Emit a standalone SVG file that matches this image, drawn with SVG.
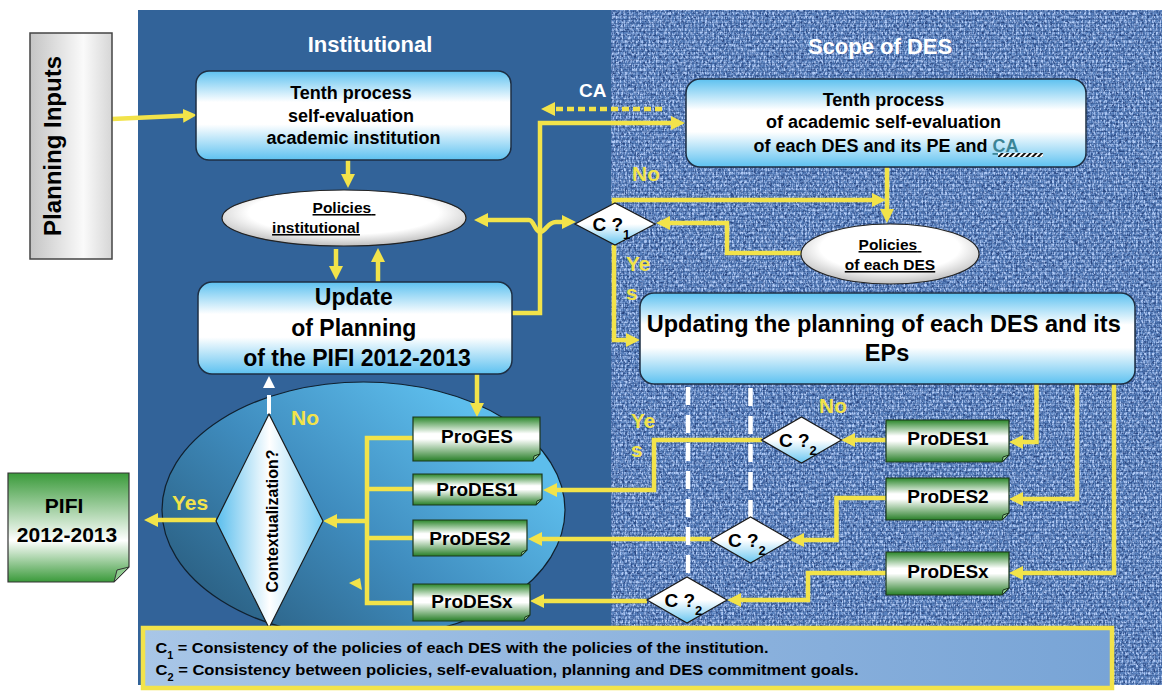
<svg xmlns="http://www.w3.org/2000/svg" width="1162" height="691" viewBox="0 0 1162 691">
  <defs>
    <linearGradient id="gBlueBox" x1="0" y1="0" x2="0" y2="1">
      <stop offset="0" stop-color="#5DC1F0"/>
      <stop offset="0.35" stop-color="#FFFFFF"/>
      <stop offset="0.6" stop-color="#FFFFFF"/>
      <stop offset="1" stop-color="#5DC1F0"/>
    </linearGradient>
    <linearGradient id="gGreen" x1="0" y1="0" x2="0" y2="1">
      <stop offset="0" stop-color="#2A862A"/>
      <stop offset="0.38" stop-color="#FFFFFF"/>
      <stop offset="0.5" stop-color="#FFFFFF"/>
      <stop offset="1" stop-color="#287F28"/>
    </linearGradient>
    <linearGradient id="gPifi" x1="0" y1="0" x2="0" y2="1">
      <stop offset="0" stop-color="#3A9A3A"/>
      <stop offset="0.62" stop-color="#FFFFFF"/>
      <stop offset="1" stop-color="#3A9A3A"/>
    </linearGradient>
    <linearGradient id="gDiam" x1="0" y1="0" x2="0" y2="1">
      <stop offset="0" stop-color="#FFFFFF"/>
      <stop offset="0.5" stop-color="#FFFFFF"/>
      <stop offset="1" stop-color="#67C5F0"/>
    </linearGradient>
    <linearGradient id="gCtx" x1="0" y1="0" x2="1" y2="0">
      <stop offset="0" stop-color="#58BDED"/>
      <stop offset="0.5" stop-color="#FFFFFF"/>
      <stop offset="1" stop-color="#78CCF3"/>
    </linearGradient>
    <radialGradient id="gPol" cx="0.5" cy="0.4" r="0.6">
      <stop offset="0" stop-color="#FFFFFF"/>
      <stop offset="0.65" stop-color="#FFFFFF"/>
      <stop offset="1" stop-color="#BEBEBE"/>
    </radialGradient>
    <linearGradient id="gOval" x1="0.9" y1="0.3" x2="0.1" y2="0.9">
      <stop offset="0" stop-color="#5DBDEC"/>
      <stop offset="0.5" stop-color="#3F8CBE"/>
      <stop offset="1" stop-color="#2A5E80"/>
    </linearGradient>
    <linearGradient id="gInputs" x1="0" y1="0" x2="1" y2="0">
      <stop offset="0" stop-color="#C4C4C4"/>
      <stop offset="0.65" stop-color="#FAFAFA"/>
      <stop offset="1" stop-color="#D6D6D6"/>
    </linearGradient>
    <linearGradient id="gLegend" x1="0" y1="0" x2="1" y2="0">
      <stop offset="0" stop-color="#A8C6E7"/>
      <stop offset="1" stop-color="#78A4D6"/>
    </linearGradient>
    <pattern id="hatch" width="4" height="4" patternUnits="userSpaceOnUse" patternTransform="rotate(45)">
      <rect width="4" height="4" fill="#FFFFFF"/>
      <rect width="2" height="4" fill="#111111"/>
    </pattern>
    <!-- woven cloth texture for the DES panel -->
    <pattern id="weaveGrid" width="4" height="4" patternUnits="userSpaceOnUse">
      <rect x="0" y="3" width="4" height="1" fill="#23457E" fill-opacity="0.35"/>
      <rect x="3" y="0" width="1" height="4" fill="#23457E" fill-opacity="0.25"/>
    </pattern>
    <filter id="fLight" x="0" y="0" width="1" height="1" color-interpolation-filters="sRGB">
      <feTurbulence type="fractalNoise" baseFrequency="0.55 0.32" numOctaves="2" seed="4"/>
      <feColorMatrix type="matrix" values="0 0 0 0 0.7  0 0 0 0 0.8  0 0 0 0 0.97  3.6 0 0 0 -1.5"/>
    </filter>
    <filter id="fDark" x="0" y="0" width="1" height="1" color-interpolation-filters="sRGB">
      <feTurbulence type="fractalNoise" baseFrequency="0.32 0.55" numOctaves="2" seed="11"/>
      <feColorMatrix type="matrix" values="0 0 0 0 0.16  0 0 0 0 0.27  0 0 0 0 0.5  0 3.4 0 0 -1.55"/>
    </filter>
    <marker id="ah" markerUnits="userSpaceOnUse" markerWidth="15" markerHeight="15" refX="5" refY="7" orient="auto">
      <path d="M0,0 L14,7 L0,14 z" fill="#F2E34A"/>
    </marker>
    <marker id="ahs" markerUnits="userSpaceOnUse" markerWidth="15" markerHeight="15" refX="5" refY="7" orient="auto-start-reverse">
      <path d="M0,0 L14,7 L0,14 z" fill="#F2E34A"/>
    </marker>
  </defs>
  <style>
    .t { font-family: "Liberation Sans", Arial, sans-serif; font-weight: bold; }
    .blk { fill: #000000; }
    .wht { fill: #FFFFFF; }
    .yel { fill: #F2E34A; font-size: 21px; }
    .box { fill: url(#gBlueBox); stroke: #1E2F44; stroke-width: 1.5; }
    .grn { fill: url(#gGreen); stroke: #1C361C; stroke-width: 1.2; }
    .fold { fill: #8FCB8F; stroke: #1C361C; stroke-width: 1; }
    .dia { fill: url(#gDiam); stroke: #1A1A1A; stroke-width: 1.2; }
    .pol { fill: url(#gPol); stroke: #222222; stroke-width: 1.2; }
    .conn { fill: none; stroke: #F2E34A; stroke-width: 4.5; }
    .arr { marker-end: url(#ah); }
    .dash { fill: none; stroke: #FFFFFF; stroke-width: 4.5; stroke-dasharray: 18 10; }
    .pro { font-size: 19px; text-anchor: middle; }
    .ct { font-size: 19px; }
  </style>

  <!-- backgrounds -->
  <rect x="0" y="0" width="1162" height="691" fill="#FFFFFF"/>
  <rect x="138" y="10" width="474" height="675" fill="#326399"/>
  <g id="scope-panel">
    <rect x="611" y="10" width="551" height="675" fill="#5780BD"/>
    <rect x="611" y="10" width="551" height="675" filter="url(#fDark)"/>
    <rect x="611" y="10" width="551" height="675" filter="url(#fLight)"/>
    <rect x="611" y="10" width="551" height="675" fill="url(#weaveGrid)"/>
  </g>

  <text class="t wht" x="370" y="52" font-size="22" text-anchor="middle">Institutional</text>
  <text class="t wht" x="880" y="54" font-size="22" text-anchor="middle">Scope of DES</text>

  <!-- programme oval -->
  <g id="program-oval">
    <ellipse cx="363.5" cy="510" rx="201.5" ry="128" fill="url(#gOval)" stroke="#10202E" stroke-width="1.2"/>
  </g>

  <!-- connectors -->
  <g id="connectors">
    <polyline class="conn arr" points="112,119 188,115.5"/>
    <polyline class="conn arr" points="348,160 348,179"/>
    <polyline class="conn arr" points="336,249 336,271"/>
    <polyline class="conn arr" points="378,282 378,257"/>
    <path class="conn" marker-start="url(#ahs)" marker-end="url(#ah)" d="M483,220 H529 C534,220 535,232 540,232 C546,232 547,222 556,222 L567,222"/>
    <polyline class="conn arr" points="512,313 540,313 540,123 676,123"/>
    <polyline class="conn arr" points="662,109 550,109" stroke-dasharray="7 4"/>
    <polyline class="conn arr" points="887,167 887,214"/>
    <polyline class="conn arr" points="614,204 614,200 877,200"/>
    <polyline class="conn arr" points="802,253 727,253 727,223 665,223"/>
    <polyline class="conn arr" points="614,245 614,340 631,340"/>
    <polyline class="conn arr" points="477,374 477,408"/>
    <polyline class="conn arr" points="1036.5,384 1036.5,442 1018,442"/>
    <polyline class="conn arr" points="1077,384 1077,499 1018,499"/>
    <polyline class="conn arr" points="1114,384 1114,573 1018,573"/>
    <polyline class="conn arr" points="886,440 850,440"/>
    <polyline class="conn arr" points="762,440 654,440 654,490 552,490"/>
    <polyline class="conn arr" points="886,498 836.5,498 836.5,540 799,540"/>
    <polyline class="conn arr" points="711,539 537,539"/>
    <polyline class="conn arr" points="886,573 808,573 808,600 736,600"/>
    <polyline class="conn arr" points="647,601 539,601"/>
    <path class="conn" d="M413,438 H367 V603 H413 M413,489 H367 M413,538 H367"/>
    <polyline class="conn arr" points="367,521 332,521"/>
    <polyline class="conn arr" points="216,520 153,520"/>
    <polygon points="349,583 360,578 362,590" fill="#F2E34A"/>
    <line x1="269" y1="414" x2="269" y2="395" stroke="#FFFFFF" stroke-width="4"/>
    <polygon points="269,376 263,388 275,388" fill="#FFFFFF"/>
    <line class="dash" x1="688" y1="387" x2="688" y2="577"/>
    <line class="dash" x1="750.5" y1="388" x2="750.5" y2="518"/>
  </g>

  <!-- connector labels -->
  <g id="labels">
    <text class="t wht" x="579" y="97" font-size="19">CA</text>
    <text class="t yel" x="632" y="181">No</text>
    <text class="t yel" x="626" y="271">Ye</text>
    <text class="t yel" x="626" y="300">s</text>
    <text class="t yel" x="819" y="413">No</text>
    <text class="t yel" x="631" y="428">Ye</text>
    <text class="t yel" x="631" y="457">s</text>
    <text class="t yel" x="291" y="425">No</text>
    <text class="t yel" x="172" y="510">Yes</text>
  </g>

  <!-- nodes -->
  <g id="planning-inputs">
    <rect x="30" y="33" width="82" height="226" fill="url(#gInputs)" stroke="#444444" stroke-width="1.5"/>
    <text class="t blk" transform="translate(61,146) rotate(-90)" font-size="24" text-anchor="middle">Planning Inputs</text>
  </g>

  <g id="inst-self-evaluation">
    <rect class="box" x="196" y="71" width="315" height="89" rx="13"/>
    <text class="t blk" font-size="18" text-anchor="middle">
      <tspan x="353.5" y="99">Tenth process</tspan>
      <tspan x="353.5" y="122">self-evaluation</tspan>
      <tspan x="353.5" y="144">academic institution</tspan>
    </text>
  </g>

  <g id="inst-policies">
    <ellipse class="pol" cx="344" cy="218" rx="122" ry="28"/>
    <text class="t blk" font-size="15.5" text-decoration="underline">
      <tspan x="344" y="213" text-anchor="middle">Policies</tspan>
      <tspan x="316" y="233" text-anchor="middle">institutional</tspan>
    </text>
  </g>

  <g id="inst-update">
    <rect class="box" x="198" y="282" width="314" height="92" rx="14"/>
    <text class="t blk" font-size="23" text-anchor="middle">
      <tspan x="357" y="305">Update</tspan>
      <tspan x="357" y="336">of Planning</tspan>
      <tspan x="357" y="366">of the PIFI 2012-2013</tspan>
    </text>
  </g>

  <g id="des-self-evaluation">
    <rect class="box" x="686" y="79" width="400" height="88" rx="14"/>
    <text class="t blk" font-size="18" text-anchor="middle">
      <tspan x="886" y="106">Tenth process</tspan>
      <tspan x="886" y="128">of academic self-evaluation</tspan>
      <tspan x="886" y="152">of each DES and its PE and <tspan fill="#3C8597" text-decoration="underline">CA</tspan></tspan>
    </text>
    <rect x="998" y="153" width="45" height="4" fill="url(#hatch)"/>
  </g>

  <g id="c1-check">
    <polygon class="dia" points="575,224 615,203 655,224 615,245"/>
    <text class="t blk ct" x="592.5" y="230.5">C ?<tspan dy="8" font-size="13">1</tspan></text>
  </g>

  <g id="des-policies">
    <ellipse class="pol" cx="890" cy="254" rx="89" ry="30"/>
    <text class="t blk" font-size="15.5" text-anchor="middle" text-decoration="underline">
      <tspan x="890" y="250">Policies</tspan>
      <tspan x="890" y="270">of each DES</tspan>
    </text>
  </g>

  <g id="des-update">
    <rect class="box" x="640" y="293" width="495" height="91" rx="14"/>
    <text class="t blk" font-size="23.5" text-anchor="middle">
      <tspan x="887" y="332">Updating the planning of each DES and its</tspan>
      <tspan x="887" y="361">EPs</tspan>
    </text>
  </g>

  <g id="c2-check-1">
    <polygon class="dia" points="761.5,440 801.5,417 841.5,440 801.5,463"/>
    <text class="t blk ct" x="779" y="446.5">C ?<tspan dy="8" font-size="13">2</tspan></text>
  </g>
  <g id="c2-check-2">
    <polygon class="dia" points="710.5,540 750.5,517 790.5,540 750.5,563"/>
    <text class="t blk ct" x="728" y="546.5">C ?<tspan dy="8" font-size="13">2</tspan></text>
  </g>
  <g id="c2-check-3">
    <polygon class="dia" points="647,600 687,577 727,600 687,623"/>
    <text class="t blk ct" x="664.5" y="606.5">C ?<tspan dy="8" font-size="13">2</tspan></text>
  </g>

  <g id="des-prodes1">
    <path class="grn" d="M886,420 H1009 V455 L1002,462 H886 Z"/>
    <path class="fold" d="M1009,455 L1003,457 L1002,462 Z"/>
    <text class="t blk pro" x="948" y="445">ProDES1</text>
  </g>
  <g id="des-prodes2">
    <path class="grn" d="M886,478 H1009 V513 L1002,520 H886 Z"/>
    <path class="fold" d="M1009,513 L1003,515 L1002,520 Z"/>
    <text class="t blk pro" x="948" y="503">ProDES2</text>
  </g>
  <g id="des-prodesx">
    <path class="grn" d="M886,552 H1009 V588 L1002,595 H886 Z"/>
    <path class="fold" d="M1009,588 L1003,590 L1002,595 Z"/>
    <text class="t blk pro" x="948" y="578">ProDESx</text>
  </g>

  <g id="inst-proges">
    <path class="grn" d="M413,417 H540 V454 L533,461 H413 Z"/>
    <path class="fold" d="M540,454 L534,456 L533,461 Z"/>
    <text class="t blk pro" x="477" y="443">ProGES</text>
  </g>
  <g id="inst-prodes1">
    <path class="grn" d="M413,474 H542 V499 L536,505 H413 Z"/>
    <path class="fold" d="M542,499 L537,501 L536,505 Z"/>
    <text class="t blk pro" x="477" y="496">ProDES1</text>
  </g>
  <g id="inst-prodes2">
    <path class="grn" d="M413,520 H527 V550 L521,556 H413 Z"/>
    <path class="fold" d="M527,550 L522,552 L521,556 Z"/>
    <text class="t blk pro" x="470" y="545">ProDES2</text>
  </g>
  <g id="inst-prodesx">
    <path class="grn" d="M413,584 H530 V615 L524,621 H413 Z"/>
    <path class="fold" d="M530,615 L525,617 L524,621 Z"/>
    <text class="t blk pro" x="472" y="608">ProDESx</text>
  </g>

  <g id="contextualization">
    <polygon points="269,414 323,521 269,628 216,521" fill="url(#gCtx)" stroke="#1A1A1A" stroke-width="1.2"/>
    <text class="t blk" transform="translate(278,521) rotate(-90)" font-size="16" text-anchor="middle">Contextualization?</text>
  </g>

  <g id="pifi-result">
    <path d="M8,473 H129 V567 L114,582 H8 Z" fill="url(#gPifi)" stroke="#333333" stroke-width="1.2"/>
    <path d="M129,567 L117,570 L114,582 Z" fill="#8FCB8F" stroke="#333333" stroke-width="1"/>
    <text class="t blk" font-size="21" text-anchor="middle">
      <tspan x="67" y="513">PIFI</tspan>
      <tspan x="67" y="542">2012-2013</tspan>
    </text>
  </g>

  <g id="legend">
    <rect x="143" y="628" width="969" height="60" fill="url(#gLegend)" stroke="#F2E34A" stroke-width="4.5"/>
    <text class="t blk" x="155.5" y="653" font-size="15" textLength="613" lengthAdjust="spacingAndGlyphs">C<tspan baseline-shift="sub" font-size="10">1</tspan> = Consistency of the policies of each DES with the policies of the institution.</text>
    <text class="t blk" x="155.5" y="675" font-size="15" textLength="703" lengthAdjust="spacingAndGlyphs">C<tspan baseline-shift="sub" font-size="10">2</tspan> = Consistency between policies, self-evaluation, planning and DES commitment goals.</text>
  </g>
</svg>
